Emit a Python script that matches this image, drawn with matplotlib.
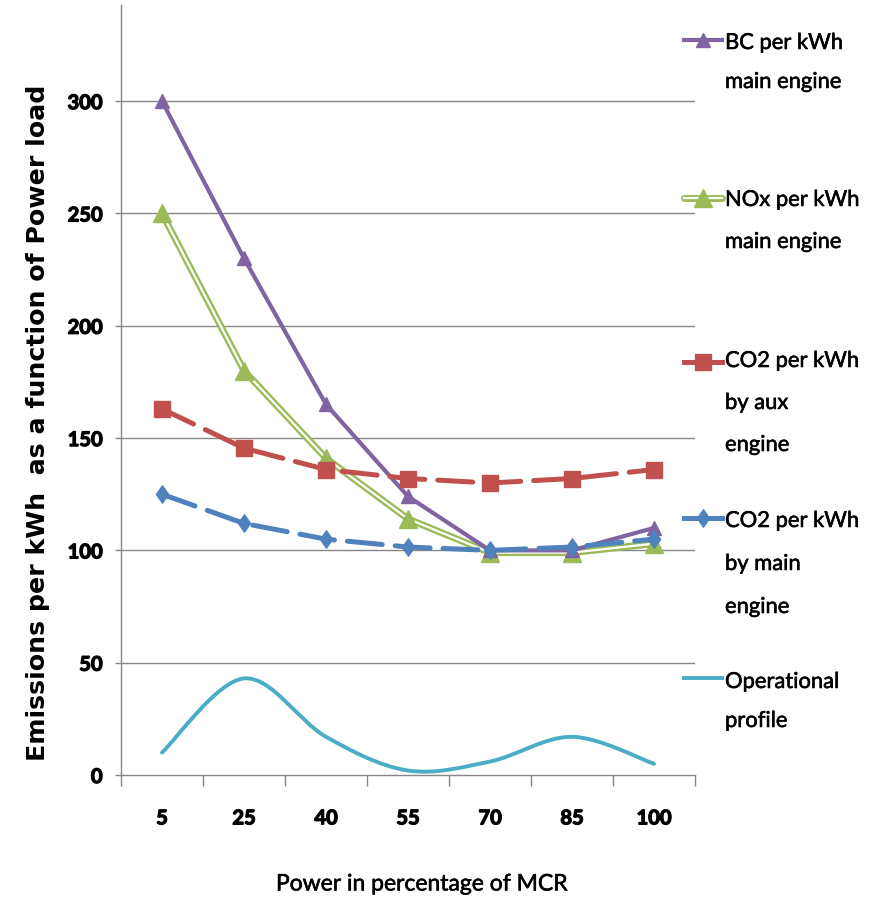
import matplotlib

matplotlib.use('Agg')

import numpy as np
import matplotlib.pyplot as plt
import matplotlib.patheffects as pe
from matplotlib.lines import Line2D
from matplotlib.path import Path
from matplotlib.patches import PathPatch

# 数据
categories = ['5', '25', '40', '55', '70', '85', '100']
bc_main = [300, 230, 165, 124, 100, 100, 110]
nox_main = [250, 180, 141, 114, 99, 99, 103]
co2_aux = [163, 145.5, 136, 132, 130, 132, 136]
co2_main = [125, 112, 105, 101.5, 100, 101.5, 105]
op_profile = [10, 43, 17, 2, 6, 17, 5]
y_ticks = [0, 50, 100, 150, 200, 250, 300]

W, H = 872, 901
plt.rcParams['font.family'] = ['Lato', 'DejaVu Sans']

purple = '#8064A2'
green = '#9BBB59'
red = '#C0504D'
blue = '#4F81BD'
cyan = '#4BACC6'
gray = '#868686'

# 加粗效果 (描边)
bold_fx = [pe.withStroke(linewidth=0.9, foreground='black')]
semi_fx = [pe.withStroke(linewidth=0.4, foreground='black')]

# 菱形标记 (偏瘦)
diamond = Path([(0, 1), (0.7, 0), (0, -1), (-0.7, 0), (0, 1)],
               [Path.MOVETO, Path.LINETO, Path.LINETO, Path.LINETO, Path.CLOSEPOLY])

fig = plt.figure(figsize=(W / 100, H / 100), dpi=100)
ax = fig.add_axes([121 / W, (H - 775) / H, (695 - 121) / W, 770 / H])

x = np.arange(len(categories))

# 网格线
for v in y_ticks[1:]:
    ax.axhline(v, color=gray, lw=1.0, zorder=0)

# 运行工况曲线 (平滑)
pts = np.column_stack([x, op_profile]).astype(float)
verts = [tuple(pts[0])]
codes = [Path.MOVETO]
n = len(pts)
for i in range(n - 1):
    p0 = pts[max(i - 1, 0)]
    p1 = pts[i]
    p2 = pts[i + 1]
    p3 = pts[min(i + 2, n - 1)]
    c1 = p1 + (p2 - p0) / 6
    c2 = p2 - (p3 - p1) / 6
    verts += [tuple(c1), tuple(c2), tuple(p2)]
    codes += [Path.CURVE4] * 3
ax.add_patch(PathPatch(Path(verts, codes), fill=False, edgecolor=cyan, lw=2.8,
                       capstyle='round', zorder=2))

# NOx 双线
ax.plot(x, nox_main, color=green, lw=5, zorder=3, solid_capstyle='round')
ax.plot(x, nox_main, color='white', lw=1.6, zorder=3.1)
ax.plot(x, nox_main, ls='none', marker='^', ms=13.5, color=green, zorder=3.2)

# BC
ax.plot(x, bc_main, color=purple, lw=3, marker='^', ms=10, zorder=4)

# CO2 aux
ax.plot(x, co2_aux, color=red, lw=3.6, dashes=(7, 2.6), dash_capstyle='round',
        marker='s', ms=11, zorder=5)

# CO2 main
ax.plot(x, co2_main, color=blue, lw=3.6, dashes=(7, 2.6), dash_capstyle='round',
        marker=diamond, ms=12.5, zorder=6)

ax.set_xlim(-0.5, len(categories) - 0.5)
ax.set_ylim(0, 342.8)

for s in ['top', 'right']:
    ax.spines[s].set_visible(False)
for s in ['left', 'bottom']:
    ax.spines[s].set_color(gray)
    ax.spines[s].set_linewidth(1.0)

ax.set_xticks(x)
ax.set_xticklabels(categories)
ax.set_xticks(np.arange(-0.5, len(categories)), minor=True)
ax.tick_params(axis='x', which='major', length=0, pad=24)
ax.tick_params(axis='x', which='minor', length=8, color=gray, width=1.0)
ax.set_yticks(y_ticks)
ax.tick_params(axis='y', length=4.3, color=gray, width=1.0, pad=9)
for lab in ax.get_xticklabels() + ax.get_yticklabels():
    lab.set_fontsize(14.5)
    lab.set_fontweight('bold')
    lab.set_path_effects(bold_fx)

# 轴标题
fig.text(38 / W, 1 - 423 / H, 'Emissions per kWh  as a function of Power load',
         rotation=90, ha='center', va='center', fontsize=18.2, fontweight='bold',
         family='DejaVu Sans')
fig.text(422 / W, 1 - 884 / H, 'Power in percentage of MCR', ha='center',
         va='center', fontsize=16.5, path_effects=semi_fx)

# 图例 (手动)
def fx(px):
    return px / W


def fy(py):
    return 1 - py / H


legend_items = [
    ('bc', ['BC per kWh', 'main engine'], 40, [43, 82]),
    ('nox', ['NOx per kWh', 'main engine'], 198, [200, 242]),
    ('aux', ['CO2 per kWh', 'by aux', 'engine'], 362, [361, 403, 445]),
    ('main', ['CO2 per kWh', 'by main', 'engine'], 518, [521, 564, 607]),
    ('op', ['Operational', 'profile'], 678, [682, 721]),
]
for key, lines, hy, ty in legend_items:
    xs = [fx(684), fx(722)]
    ys = [fy(hy), fy(hy)]
    if key == 'bc':
        fig.add_artist(Line2D(xs, ys, color=purple, lw=3, transform=fig.transFigure))
        fig.add_artist(Line2D([fx(703)], [fy(hy)], ls='none', marker='^', ms=10,
                              color=purple, transform=fig.transFigure))
    elif key == 'nox':
        fig.add_artist(Line2D(xs, ys, color=green, lw=5, solid_capstyle='round',
                              transform=fig.transFigure))
        fig.add_artist(Line2D(xs, ys, color='white', lw=1.6, transform=fig.transFigure))
        fig.add_artist(Line2D([fx(703)], [fy(hy)], ls='none', marker='^', ms=13.5,
                              color=green, transform=fig.transFigure))
    elif key == 'aux':
        fig.add_artist(Line2D(xs, ys, color=red, lw=3.6, transform=fig.transFigure))
        fig.add_artist(Line2D([fx(703)], [fy(hy)], ls='none', marker='s', ms=11,
                              color=red, transform=fig.transFigure))
    elif key == 'main':
        fig.add_artist(Line2D(xs, ys, color=blue, lw=3.6, transform=fig.transFigure))
        fig.add_artist(Line2D([fx(703)], [fy(hy)], ls='none', marker=diamond, ms=12.5,
                              color=blue, transform=fig.transFigure))
    else:
        fig.add_artist(Line2D(xs, ys, color=cyan, lw=2.8, transform=fig.transFigure))
    for t, yy in zip(lines, ty):
        fig.text(fx(725), fy(yy), t, ha='left', va='center', fontsize=15.8,
                 path_effects=semi_fx)

fig.savefig('out.png', dpi=100)
